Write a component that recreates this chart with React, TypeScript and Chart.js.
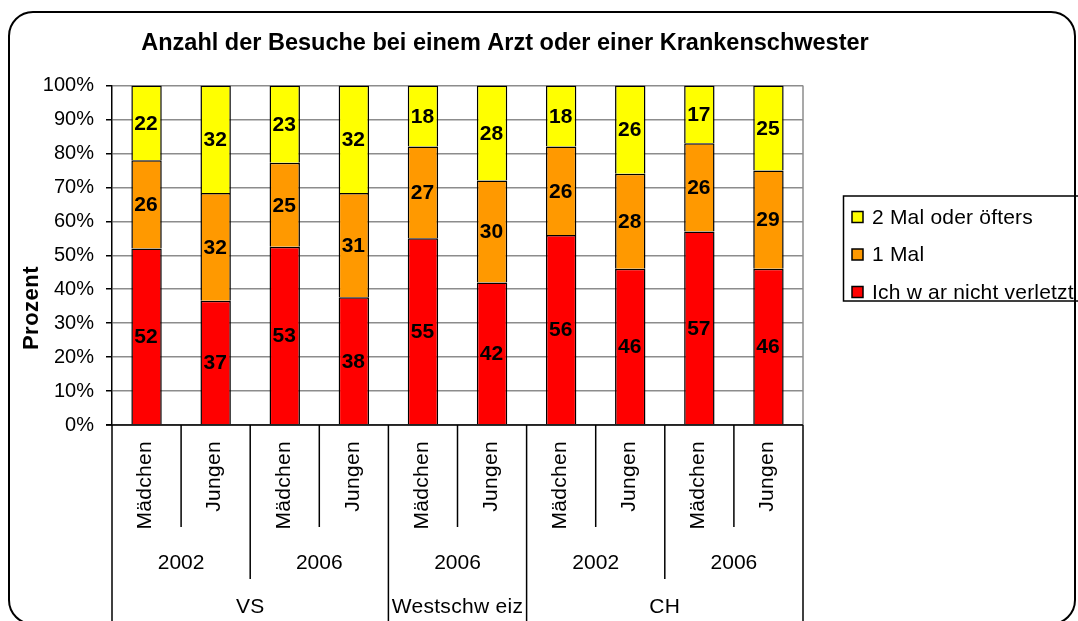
import React, { useEffect, useRef } from "react";
import { Chart, registerables } from "chart.js";

Chart.register(...registerables);

const TITLE = "Anzahl der Besuche bei einem Arzt oder einer Krankenschwester";
const Y_TITLE = "Prozent";
const CATEGORIES = ["Mädchen", "Jungen", "Mädchen", "Jungen", "Mädchen", "Jungen", "Mädchen", "Jungen", "Mädchen", "Jungen"];
const YEARS = ["2002", "2006", "2006", "2002", "2006"];
const REGIONS = ["VS", "Westschw eiz", "CH"];
const REGION_SPANS = [4, 2, 4];
const SERIES_NAMES = ["Ich w ar nicht verletzt", "1 Mal", "2 Mal oder öfters"];
const NOT_INJURED = [52, 37, 53, 38, 55, 42, 56, 46, 57, 46];
const ONCE = [26, 32, 25, 31, 27, 30, 26, 28, 26, 29];
const TWICE_PLUS = [22, 32, 23, 32, 18, 28, 18, 26, 17, 25];
const COLORS = ["#FF0000", "#FF9900", "#FFFF00"];
const Y_TICK_STEP = 10;

const RAW = [NOT_INJURED, ONCE, TWICE_PLUS];
const TOTALS = CATEGORIES.map((_, i) => RAW.reduce((s, a) => s + a[i], 0));
const SHARES = RAW.map((a) => a.map((v, i) => (v / TOTALS[i]) * 100));

const FONT = '"Liberation Sans", Arial, sans-serif';

const setLS = (ctx: any, v: string) => {
  ctx.letterSpacing = v;
};

const overlay = {
  id: "overlay",
  afterDatasetsDraw(chart: any) {
    const ctx = chart.ctx;
    ctx.save();
    ctx.font = `bold 21px ${FONT}`;
    ctx.fillStyle = "#000";
    ctx.textAlign = "center";
    ctx.textBaseline = "middle";
    chart.data.datasets.forEach((_: any, di: number) => {
      const meta = chart.getDatasetMeta(di);
      meta.data.forEach((bar: any, i: number) => {
        const p = bar.getProps(["x", "y", "base"], true);
        ctx.fillText(String(RAW[di][i]), p.x - 0.5, (p.y + p.base) / 2 + 1);
      });
    });
    ctx.restore();
  },
  afterDraw(chart: any) {
    const ctx = chart.ctx;
    const { left, right, top, bottom } = chart.chartArea;
    const xs = chart.scales.x;
    const n = CATEGORIES.length;
    const catW = (right - left) / n;
    const bottomEdge = 621;
    ctx.save();
    // plot right border
    ctx.strokeStyle = "#8c8c8c";
    ctx.lineWidth = 1.5;
    ctx.beginPath();
    ctx.moveTo(right, top);
    ctx.lineTo(right, bottom);
    ctx.stroke();
    // x axis line
    ctx.strokeStyle = "#000";
    ctx.lineWidth = 1.5;
    ctx.beginPath();
    ctx.moveTo(left - 6, bottom);
    ctx.lineTo(right, bottom);
    ctx.stroke();
    // separators
    const regionBounds = new Set<number>();
    let acc = 0;
    regionBounds.add(0);
    REGION_SPANS.forEach((s) => {
      acc += s;
      regionBounds.add(acc);
    });
    for (let i = 0; i <= n; i++) {
      const bx = i === 0 ? left : i === n ? right : (xs.getPixelForValue(i - 1) + xs.getPixelForValue(i)) / 2;
      let end = 527;
      if (regionBounds.has(i)) end = bottomEdge;
      else if (i % 2 === 0) end = 579;
      ctx.beginPath();
      ctx.moveTo(bx, bottom);
      ctx.lineTo(bx, end);
      ctx.stroke();
    }
    ctx.fillStyle = "#000";
    // gender labels
    ctx.font = `21px ${FONT}`;
    setLS(ctx, "0.3px");
    CATEGORIES.forEach((c, i) => {
      const cx = xs.getPixelForValue(i);
      ctx.save();
      ctx.translate(cx - 1, 441);
      ctx.rotate(-Math.PI / 2);
      ctx.textAlign = "right";
      ctx.textBaseline = "middle";
      ctx.fillText(c, 0, 0);
      ctx.restore();
    });
    // year labels
    ctx.textAlign = "center";
    ctx.textBaseline = "middle";
    setLS(ctx, "0px");
    YEARS.forEach((yr, g) => {
      const cx = left + (g * 2 + 1) * catW;
      ctx.fillText(yr, cx, 563);
    });
    // region labels
    setLS(ctx, "0.3px");
    acc = 0;
    REGIONS.forEach((r, k) => {
      const cx = left + (acc + REGION_SPANS[k] / 2) * catW;
      acc += REGION_SPANS[k];
      ctx.fillText(r, cx, 607);
    });
    // title
    ctx.font = `bold 23.5px ${FONT}`;
    setLS(ctx, "0px");
    ctx.fillText(TITLE, 505, 44);
    // y title
    ctx.save();
    ctx.translate(32, 308);
    ctx.rotate(-Math.PI / 2);
    ctx.font = `bold 22px ${FONT}`;
    setLS(ctx, "0.5px");
    ctx.fillText(Y_TITLE, 0, 0);
    ctx.restore();
    // legend
    ctx.lineWidth = 1.5;
    ctx.strokeStyle = "#000";
    ctx.strokeRect(843.5, 196, 300, 105);
    ctx.font = `21px ${FONT}`;
    setLS(ctx, "0.2px");
    ctx.textAlign = "left";
    const order = [2, 1, 0];
    order.forEach((si, row) => {
      const cy = 217 + row * 37.5;
      ctx.fillStyle = COLORS[si];
      ctx.fillRect(852, cy - 5.5, 11, 11);
      ctx.strokeRect(852, cy - 5.5, 11, 11);
      ctx.fillStyle = "#000";
      ctx.fillText(SERIES_NAMES[si], 872, cy + 1);
    });
    setLS(ctx, "0px");
    // outer border
    ctx.lineWidth = 2;
    ctx.beginPath();
    (ctx as any).roundRect(9, 12, 1066, 612, 24);
    ctx.stroke();
    ctx.restore();
  },
};

export default function App() {
  const ref = useRef<HTMLCanvasElement | null>(null);
  useEffect(() => {
    if (!ref.current) return;
    Chart.defaults.font.family = FONT;
    const chart = new Chart(ref.current, {
      type: "bar",
      data: {
        labels: CATEGORIES,
        datasets: SHARES.map((d, i) => ({
          label: SERIES_NAMES[i],
          data: d,
          backgroundColor: COLORS[i],
          borderColor: "#000",
          borderWidth: 1.5,
          categoryPercentage: 1,
          barPercentage: 0.44,
        })),
      },
      options: {
        animation: false,
        responsive: false,
        layout: { padding: { left: 0, top: 85.5, right: 275, bottom: 196 } },
        plugins: { legend: { display: false }, tooltip: { enabled: false }, title: { display: false } },
        scales: {
          x: { stacked: true, display: false },
          y: {
            stacked: true,
            min: 0,
            max: 100,
            afterFit: (s: any) => {
              s.width = 112;
            },
            ticks: {
              stepSize: Y_TICK_STEP,
              callback: (v: any) => `${v}%`,
              color: "#000",
              font: { size: 20, family: FONT },
              padding: 12,
            },
            grid: { color: "#8c8c8c", lineWidth: 1.5, tickColor: "#000", tickLength: 6 },
            border: { display: true, color: "#000", width: 1.5 },
          },
        },
      },
      plugins: [overlay],
    });
    return () => chart.destroy();
  }, []);
  return (
    <div style={{ position: "fixed", left: 0, top: 0, width: 1078, height: 621, background: "#fff" }}>
      <canvas ref={ref} width={1078} height={621} style={{ display: "block" }} />
    </div>
  );
}
